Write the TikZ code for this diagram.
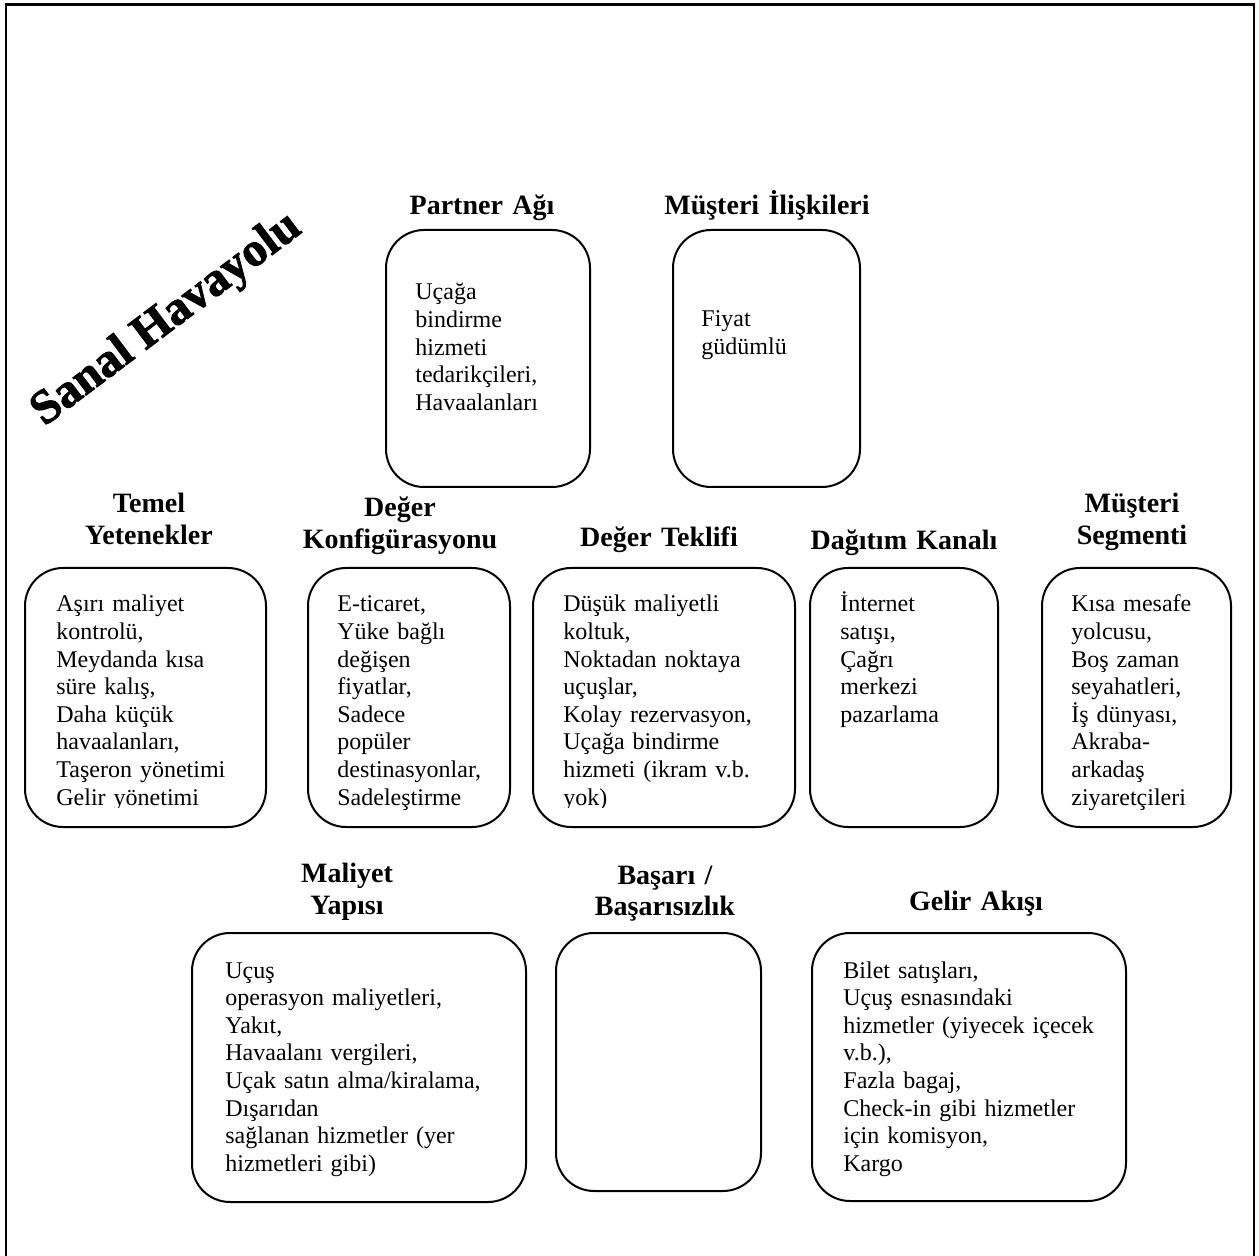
\documentclass[tikz,border=0pt]{standalone}
\usepackage{fontspec}
\setmainfont{Liberation Serif}
% rounded box given by its corners (x1,y1) and (x2,y2)
\newcommand{\rbox}[5]{%
  \node[box, minimum width={(#4-#2)*0.5pt}, minimum height={(#5-#3)*0.5pt}]
    (#1) at ({(#2+#4)/2},{(#3+#5)/2}) {};}
\begin{document}
\begin{tikzpicture}[x=0.5pt,y=-0.5pt,
  box/.style={draw, line width=1pt, rounded corners=19pt, inner sep=0pt},
  head/.style={font=\fontsize{14}{16}\selectfont\bfseries, align=center,
    text width=220pt, inner sep=0pt, anchor=base},
  body/.style={font=\fontsize{12}{13.8}\selectfont, align=left,
    text width=160pt, inner sep=0pt, anchor=base west},
  title/.style={font=\fontsize{24}{28}\selectfont\bfseries\addfontfeature{FakeBold=1.8},
    rotate=37, inner sep=0pt}]
\useasboundingbox (0,0) rectangle (1259,1256);

% page frame, open at the bottom
\draw[line width=1.1pt] (6,1256) -- (6,4.5) -- (1254,4.5) -- (1254,1256);

% heavy slanted title
\node[title] (title) at (167,320) {Sanal Havayolu};

% ---------- top row ----------
\node[head] (partnerhead) at (482,215) {Partner Ağı};
\rbox{partner}{386}{230}{590}{487}
\node[body] (partnertext) at (415,300)
  {Uçağa\\bindirme\\hizmeti\\tedarikçileri,\\Havaalanları};

\node[head] (relhead) at (767,215) {Müşteri İlişkileri};
\rbox{rel}{673}{230}{860}{487}
\node[body] (reltext) at (701,327) {Fiyat\\güdümlü};

% ---------- middle row ----------
\node[head] (temelhead) at (149,513) {Temel\\Yetenekler};
\rbox{temel}{25}{568}{266}{827}

\node[head] (konfighead) at (400,517) {Değer\\Konfigürasyonu};
\rbox{konfig}{308}{568}{510}{827}
\node[body] (konfigtext) at (337,612)
  {E-ticaret,\\Yüke bağlı\\değişen\\fiyatlar,\\Sadece\\popüler\\destinasyonlar,\\Sadeleştirme};

\node[head] (teklifhead) at (659,547) {Değer Teklifi};
\rbox{teklif}{533}{568}{795}{827}

% the last lines of these two lists are cut off at the text area edge
\begin{scope}
  \clip (0,0) rectangle (1259,807);
  \node[body] (temeltext) at (56,612)
    {Aşırı maliyet\\kontrolü,\\Meydanda kısa\\süre kalış,\\Daha küçük\\havaalanları,\\Taşeron yönetimi\\Gelir yönetimi};
  \node[body] (teklitext) at (563,612)
    {Düşük maliyetli\\koltuk,\\Noktadan noktaya\\uçuşlar,\\Kolay rezervasyon,\\Uçağa bindirme\\hizmeti (ikram v.b.\\yok)};
\end{scope}

\node[head] (dagitimhead) at (904,550) {Dağıtım Kanalı};
\rbox{dagitim}{810}{568}{998}{827}
\node[body] (dagitimtext) at (840,612)
  {İnternet\\satışı,\\Çağrı\\merkezi\\pazarlama};

\node[head] (segmenthead) at (1132,513) {Müşteri\\Segmenti};
\rbox{segment}{1042}{568}{1231}{827}
\node[body] (segmenttext) at (1071,612)
  {Kısa mesafe\\yolcusu,\\Boş zaman\\seyahatleri,\\İş dünyası,\\Akraba-\\arkadaş\\ziyaretçileri};

% ---------- bottom row ----------
\node[head] (maliyethead) at (347,882) {Maliyet\\Yapısı};
\rbox{maliyet}{192}{933}{526}{1202}
\node[body] (maliyettext) at (225,978)
  {Uçuş\\operasyon maliyetleri,\\Yakıt,\\Havaalanı vergileri,\\Uçak satın alma/kiralama,\\Dışarıdan\\sağlanan hizmetler (yer\\hizmetleri gibi)};

\node[head] (basarihead) at (665,884) {Başarı /\\Başarısızlık};
\rbox{basari}{556}{933}{761}{1191}

\node[head] (gelirhead) at (976,910) {Gelir Akışı};
\rbox{gelir}{812}{933}{1126}{1201}
\node[body] (gelirtext) at (843,978)
  {Bilet satışları,\\Uçuş esnasındaki\\hizmetler (yiyecek içecek\\v.b.),\\Fazla bagaj,\\Check-in gibi hizmetler\\için komisyon,\\Kargo};
\end{tikzpicture}
\end{document}
